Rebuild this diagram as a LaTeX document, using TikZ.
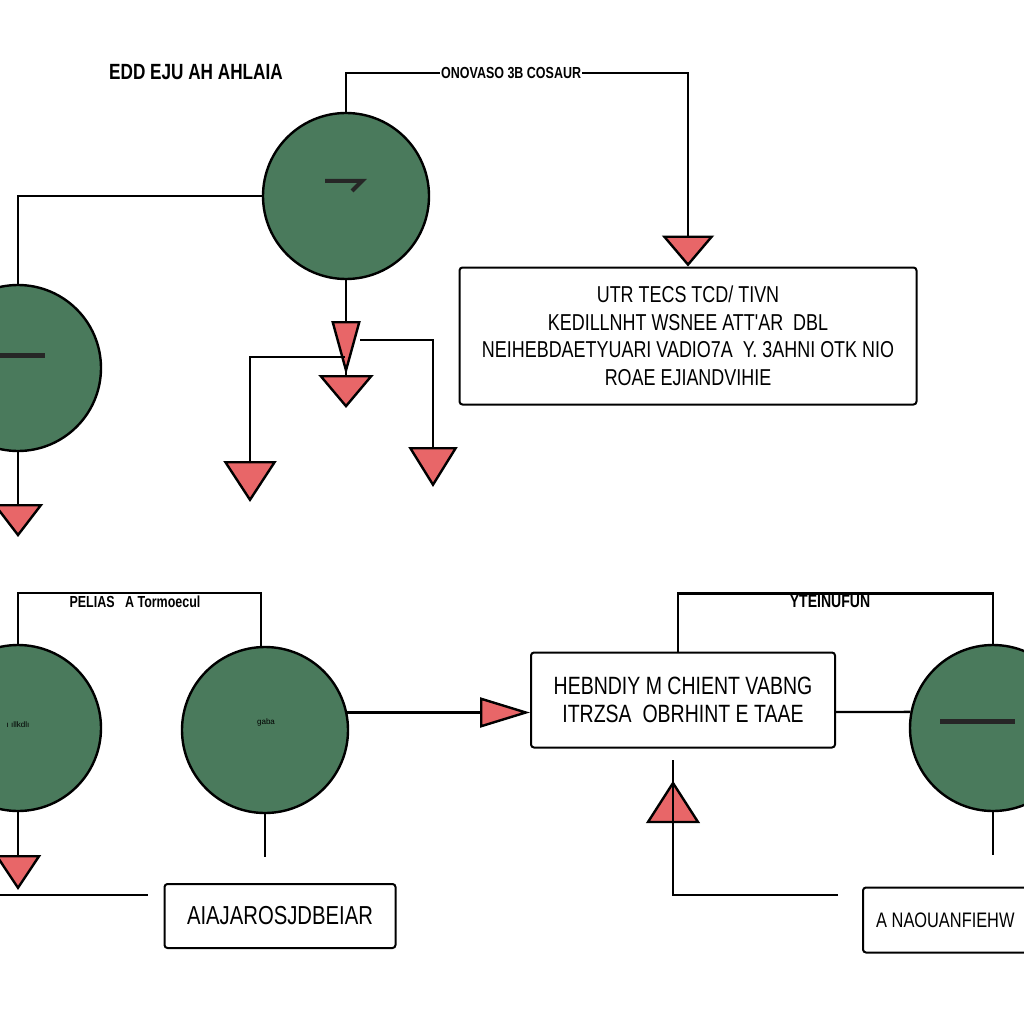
\documentclass[tikz,border=0pt]{standalone}
\usepackage{fontspec}
\setmainfont{Liberation Sans}
\newfontfamily\cond[FakeStretch=0.78]{Liberation Sans}
\usetikzlibrary{arrows.meta}
\definecolor{circgreen}{RGB}{74,122,92}
\definecolor{trired}{RGB}{232,102,104}
\tikzset{
  circ/.style={circle, draw=black, line width=2.4pt, fill=circgreen, minimum size=166pt, inner sep=0pt},
  boxnode/.style={draw=black, line width=2pt, rounded corners=3pt, fill=white, align=center, inner sep=0pt, font=\cond\fontsize{23}{27.5}\selectfont},
  lbl/.style={font=\cond\bfseries\fontsize{22}{24}\selectfont, inner sep=1pt},
  conn/.style={line width=2.4pt, draw=black},
  tipd/.style={conn, -{Triangle[width=50pt,length=33pt,fill=trired]}},
  bar/.style={line width=5pt, draw=black!85}
}
\begin{document}
\begin{tikzpicture}[x=1pt,y=-1pt]
\useasboundingbox (0,0) rectangle (1024,1024);
\clip (0,0) rectangle (1024,1024);
\fill[white] (0,0) rectangle (1024,1024);

% circles
\node[circ] (A) at (346,196) {};
\node[circ] (B) at (18,368) {};
\node[circ] (C) at (18,728) {};
\node[circ] (D) at (265,730) {};
\node[circ] (E) at (993,728) {};
\draw[bar, line width=4pt, line join=miter] (325,181) -- (362,181) -- (352,191);
\draw[bar] (-10,355) -- (45,355);
\draw[bar] (940,721) -- (1015,721);
\node[font=\fontsize{8}{8}\selectfont, inner sep=0pt] (ctext) at (18,725) {ı ıllkdlı};
\node[font=\fontsize{8}{8}\selectfont, inner sep=0pt] (dtext) at (266,722) {gaba};

% boxes
\node[boxnode, minimum width=457pt, minimum height=137pt] (B1) at (688,336)
  {UTR TECS TCD/ TIVN\\KEDILLNHT WSNEE ATT'AR \ DBL\\NEIHEBDAETYUARI VADIO7A \ Y. 3AHNI OTK NIO\\ROAE EJIANDVIHIE};
\node[boxnode, minimum width=304pt, minimum height=95pt, font=\cond\fontsize{25}{28}\selectfont] (B2) at (683,700)
  {HEBNDIY M CHIENT VABNG\\ITRZSA \ OBRHINT E TAAE};
\node[boxnode, minimum width=231pt, minimum height=64pt, font=\cond\fontsize{26}{28}\selectfont] (B3) at (280,916)
  {AIAJAROSJDBEIAR};
\node[boxnode, minimum width=190pt, minimum height=65pt, anchor=west] (B4) at (862,920) {};
\node[anchor=west, inner sep=0pt, font=\cond\fontsize{21}{24}\selectfont] (B4t) at (876,920) {A NAOUANFIEHW};

% text labels
\node[lbl, anchor=west] (tl) at (108,72) {EDD EJU AH AHLAIA};
\node[lbl, anchor=west, font=\cond\bfseries\fontsize{16}{18}\selectfont] (tm) at (440,73) {ONOVASO 3B COSAUR};
\node[lbl, font=\cond\bfseries\fontsize{16}{18}\selectfont] (bl) at (135,602) {PELIAS \ \ A Tormoecul};
\node[lbl, font=\cond\bfseries\fontsize{18}{20}\selectfont] (br) at (830,601) {YTEINUFUN};

% coordinates
\coordinate (bt) at (18,537);
\coordinate (m1) at (346,408);
\coordinate (jr) at (360,340);
\coordinate (rt) at (433,487);
\coordinate (jl) at (345,357);
\coordinate (lt) at (250,502);
\coordinate (ct) at (18,890);
\coordinate (cl1) at (0,895);
\coordinate (cl2) at (148,895);
\coordinate (ds) at (265,857);
\coordinate (es) at (993,855);
\coordinate (u1) at (673,760);
\coordinate (u2) at (838,895);
\coordinate (top1) at (261,593);

% connectors
\draw[conn] (A.west) -| (B.north);
\draw[tipd] (B.south) -- (bt);
\draw[conn] (A.north) |- (tm.west);
\draw[conn, -{Triangle[width=52pt,length=31pt,fill=trired]}] (tm.east) -| (B1.north);
\draw[conn, -{Triangle[width=29pt,length=54pt,fill=trired] Triangle[width=55pt,length=33pt,fill=trired]}] (A.south) -- (m1);
\draw[conn, -{Triangle[width=49pt,length=40pt,fill=trired]}] (jr) -| (rt);
\draw[conn, -{Triangle[width=53pt,length=41pt,fill=trired]}] (jl) -| (lt);
\draw[conn] (C.north) |- (top1) -- (top1 |- D.north);
\draw[conn, -{Triangle[width=46pt,length=35pt,fill=trired]}] (C.south) -- (ct);
\draw[conn] (cl1) -- (cl2);
\draw[conn] (D.south) -- (ds);
\draw[conn, -{Triangle[width=30pt,length=50pt,fill=trired]}] (D.12) -- (D.12 -| B2.west);
\draw[conn] ([xshift=-5pt]B2.north) |- (br.north) -| (E.north);
\draw[conn] ([yshift=-12pt]B2.east) -- (E.169);
\draw[conn] (E.south) -- (es);
\draw[conn, fill=trired] (648,822) -- (673,783) -- (698,822) -- cycle;
\draw[conn] (u2) -| (u1);
\end{tikzpicture}
\end{document}
